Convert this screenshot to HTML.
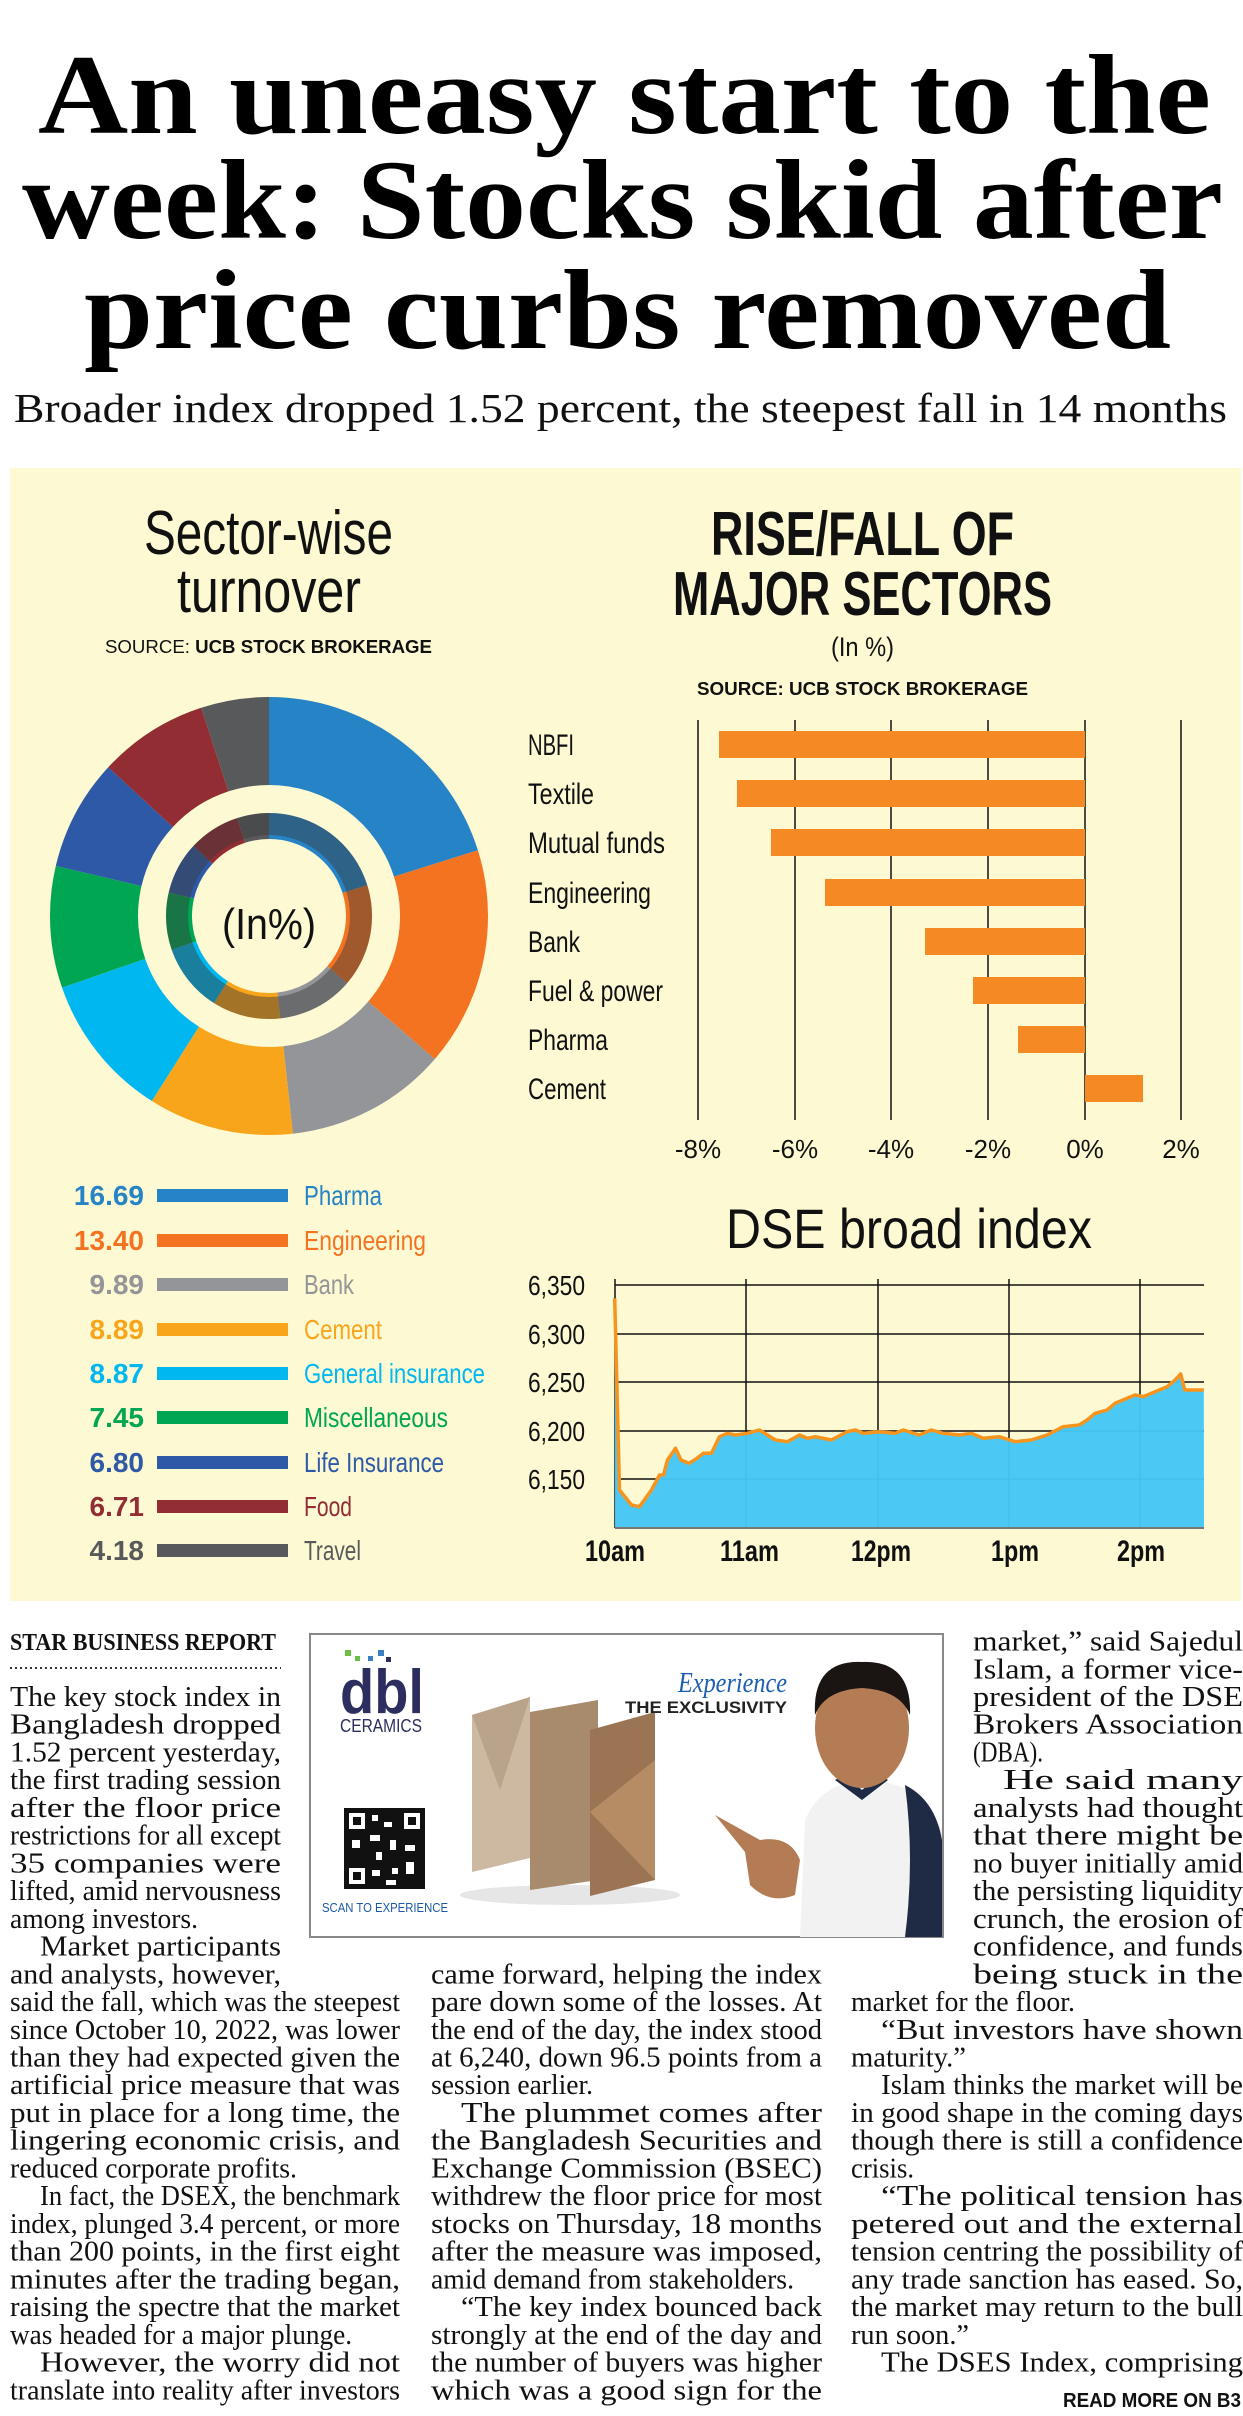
<!DOCTYPE html>
<html><head><meta charset="utf-8"><style>
html,body{margin:0;padding:0;background:#fff;}
svg{display:block;}
.b{font-family:"Liberation Serif",serif;font-size:28px;fill:#111;}
.s{font-family:"Liberation Sans",sans-serif;}
</style></head><body>
<svg width="1243" height="2416" viewBox="0 0 1243 2416" xmlns="http://www.w3.org/2000/svg">
<rect width="1243" height="2416" fill="#fff"/>
<g font-family="Liberation Serif,serif" font-weight="bold" font-size="113" fill="#000">
<text x="38" y="133" textLength="1173" lengthAdjust="spacingAndGlyphs">An uneasy start to the</text>
<text x="22" y="238" textLength="1201" lengthAdjust="spacingAndGlyphs">week: Stocks skid after</text>
<text x="84" y="348" textLength="1087" lengthAdjust="spacingAndGlyphs">price curbs removed</text>
</g>
<text x="14" y="422" font-family="Liberation Serif,serif" font-size="41" fill="#111" textLength="1213" lengthAdjust="spacingAndGlyphs">Broader index dropped 1.52 percent, the steepest fall in 14 months</text>

<rect x="10" y="468" width="1231" height="1133" fill="#fdf9d3"/>

<g class="s" fill="#111">
<text x="144" y="554" font-size="62" textLength="249" lengthAdjust="spacingAndGlyphs">Sector-wise</text>
<text x="177" y="612" font-size="62" textLength="184" lengthAdjust="spacingAndGlyphs">turnover</text>
<text x="105" y="653" font-size="18" textLength="327" lengthAdjust="spacingAndGlyphs">SOURCE: <tspan font-weight="bold">UCB STOCK BROKERAGE</tspan></text>
<text x="711" y="555" font-size="62" font-weight="bold" textLength="303" lengthAdjust="spacingAndGlyphs">RISE/FALL OF</text>
<text x="673" y="615" font-size="62" font-weight="bold" textLength="379" lengthAdjust="spacingAndGlyphs">MAJOR SECTORS</text>
<text x="831" y="656" font-size="27" textLength="63" lengthAdjust="spacingAndGlyphs">(In %)</text>
<text x="697" y="695" font-size="18" font-weight="bold" textLength="331" lengthAdjust="spacingAndGlyphs">SOURCE: UCB STOCK BROKERAGE</text>
</g>

<g transform="rotate(-90 269 916)" fill="none">
<circle cx="269" cy="916" r="175" stroke-width="88" stroke="#2684c6" stroke-dasharray="221.4 1100" stroke-dashoffset="0"/>
<circle cx="269" cy="916" r="175" stroke-width="88" stroke="#f37321" stroke-dasharray="177.8 1100" stroke-dashoffset="-221.4"/>
<circle cx="269" cy="916" r="175" stroke-width="88" stroke="#939598" stroke-dasharray="131.2 1100" stroke-dashoffset="-399.2"/>
<circle cx="269" cy="916" r="175" stroke-width="88" stroke="#f9a51b" stroke-dasharray="117.9 1100" stroke-dashoffset="-530.4"/>
<circle cx="269" cy="916" r="175" stroke-width="88" stroke="#00b7ef" stroke-dasharray="117.7 1100" stroke-dashoffset="-648.3"/>
<circle cx="269" cy="916" r="175" stroke-width="88" stroke="#00a651" stroke-dasharray="98.8 1100" stroke-dashoffset="-766.0"/>
<circle cx="269" cy="916" r="175" stroke-width="88" stroke="#2e59a7" stroke-dasharray="90.2 1100" stroke-dashoffset="-864.8"/>
<circle cx="269" cy="916" r="175" stroke-width="88" stroke="#922d34" stroke-dasharray="89.0 1100" stroke-dashoffset="-955.0"/>
<circle cx="269" cy="916" r="175" stroke-width="88" stroke="#58595b" stroke-dasharray="55.6 1100" stroke-dashoffset="-1044.0"/>
<circle cx="269" cy="916" r="90" stroke-width="26" stroke="#2684c6" stroke-dasharray="113.9 600" stroke-dashoffset="0"/>
<circle cx="269" cy="916" r="90" stroke-width="26" stroke="#f37321" stroke-dasharray="91.4 600" stroke-dashoffset="-113.9"/>
<circle cx="269" cy="916" r="90" stroke-width="26" stroke="#939598" stroke-dasharray="67.5 600" stroke-dashoffset="-205.3"/>
<circle cx="269" cy="916" r="90" stroke-width="26" stroke="#f9a51b" stroke-dasharray="60.6 600" stroke-dashoffset="-272.8"/>
<circle cx="269" cy="916" r="90" stroke-width="26" stroke="#00b7ef" stroke-dasharray="60.5 600" stroke-dashoffset="-333.4"/>
<circle cx="269" cy="916" r="90" stroke-width="26" stroke="#00a651" stroke-dasharray="50.8 600" stroke-dashoffset="-393.9"/>
<circle cx="269" cy="916" r="90" stroke-width="26" stroke="#2e59a7" stroke-dasharray="46.4 600" stroke-dashoffset="-444.7"/>
<circle cx="269" cy="916" r="90" stroke-width="26" stroke="#922d34" stroke-dasharray="45.8 600" stroke-dashoffset="-491.1"/>
<circle cx="269" cy="916" r="90" stroke-width="26" stroke="#58595b" stroke-dasharray="28.6 600" stroke-dashoffset="-536.9"/>
<circle cx="269" cy="916" r="92" stroke-width="22" stroke="#3a3a3a" stroke-opacity="0.45"/>
</g>
<text x="222" y="939" class="s" font-size="44" fill="#111" textLength="94" lengthAdjust="spacingAndGlyphs">(In%)</text>

<g stroke="#111" stroke-width="1.5">
<line x1="698" y1="720" x2="698" y2="1120"/><line x1="795" y1="720" x2="795" y2="1120"/>
<line x1="891" y1="720" x2="891" y2="1120"/><line x1="988" y1="720" x2="988" y2="1120"/>
<line x1="1085" y1="720" x2="1085" y2="1120"/><line x1="1181" y1="720" x2="1181" y2="1120"/>
</g>
<g fill="#f58a24">
<rect x="719" y="731" width="366" height="27"/>
<rect x="737" y="780" width="348" height="27"/>
<rect x="771" y="829" width="314" height="27"/>
<rect x="825" y="879" width="260" height="27"/>
<rect x="925" y="928" width="160" height="27"/>
<rect x="973" y="977" width="112" height="27"/>
<rect x="1018" y="1026" width="67" height="27"/>
<rect x="1085" y="1075" width="58" height="27"/>
</g>
<g class="s" font-size="30" fill="#111">
<text x="528" y="755" textLength="46" lengthAdjust="spacingAndGlyphs">NBFI</text>
<text x="528" y="804" textLength="66" lengthAdjust="spacingAndGlyphs">Textile</text>
<text x="528" y="853" textLength="137" lengthAdjust="spacingAndGlyphs">Mutual funds</text>
<text x="528" y="903" textLength="123" lengthAdjust="spacingAndGlyphs">Engineering</text>
<text x="528" y="952" textLength="52" lengthAdjust="spacingAndGlyphs">Bank</text>
<text x="528" y="1001" textLength="135" lengthAdjust="spacingAndGlyphs">Fuel &amp; power</text>
<text x="528" y="1050" textLength="80" lengthAdjust="spacingAndGlyphs">Pharma</text>
<text x="528" y="1099" textLength="78" lengthAdjust="spacingAndGlyphs">Cement</text>
</g>
<g class="s" font-size="26" fill="#111" text-anchor="middle">
<text x="698" y="1158">-8%</text><text x="795" y="1158">-6%</text><text x="891" y="1158">-4%</text>
<text x="988" y="1158">-2%</text><text x="1085" y="1158">0%</text><text x="1181" y="1158">2%</text>
</g>

<g class="s" font-size="28">
<g font-weight="bold" text-anchor="end">
<text x="144" y="1205" fill="#2684c6">16.69</text>
<text x="144" y="1250" fill="#f37321">13.40</text>
<text x="144" y="1294" fill="#939598">9.89</text>
<text x="144" y="1339" fill="#f9a51b">8.89</text>
<text x="144" y="1383" fill="#00b7ef">8.87</text>
<text x="144" y="1427" fill="#00a651">7.45</text>
<text x="144" y="1472" fill="#2e59a7">6.80</text>
<text x="144" y="1516" fill="#922d34">6.71</text>
<text x="144" y="1560" fill="#58595b">4.18</text>
</g>
<rect x="157" y="1189" width="131" height="13" fill="#2684c6"/>
<rect x="157" y="1234" width="131" height="13" fill="#f37321"/>
<rect x="157" y="1278" width="131" height="13" fill="#939598"/>
<rect x="157" y="1323" width="131" height="13" fill="#f9a51b"/>
<rect x="157" y="1367" width="131" height="13" fill="#00b7ef"/>
<rect x="157" y="1411" width="131" height="13" fill="#00a651"/>
<rect x="157" y="1456" width="131" height="13" fill="#2e59a7"/>
<rect x="157" y="1500" width="131" height="13" fill="#922d34"/>
<rect x="157" y="1544" width="131" height="13" fill="#58595b"/>
<text x="304" y="1205" fill="#2684c6" textLength="78" lengthAdjust="spacingAndGlyphs">Pharma</text>
<text x="304" y="1250" fill="#f37321" textLength="122" lengthAdjust="spacingAndGlyphs">Engineering</text>
<text x="304" y="1294" fill="#939598" textLength="50" lengthAdjust="spacingAndGlyphs">Bank</text>
<text x="304" y="1339" fill="#f9a51b" textLength="78" lengthAdjust="spacingAndGlyphs">Cement</text>
<text x="304" y="1383" fill="#00b7ef" textLength="181" lengthAdjust="spacingAndGlyphs">General insurance</text>
<text x="304" y="1427" fill="#00a651" textLength="144" lengthAdjust="spacingAndGlyphs">Miscellaneous</text>
<text x="304" y="1472" fill="#2e59a7" textLength="140" lengthAdjust="spacingAndGlyphs">Life Insurance</text>
<text x="304" y="1516" fill="#922d34" textLength="48" lengthAdjust="spacingAndGlyphs">Food</text>
<text x="304" y="1560" fill="#58595b" textLength="57" lengthAdjust="spacingAndGlyphs">Travel</text>
</g>

<text x="726" y="1248" class="s" font-size="56" fill="#111" textLength="366" lengthAdjust="spacingAndGlyphs">DSE broad index</text>
<g stroke="#111" stroke-width="1.5">
<line x1="615" y1="1285" x2="1204" y2="1285"/><line x1="615" y1="1334" x2="1204" y2="1334"/>
<line x1="615" y1="1382" x2="1204" y2="1382"/><line x1="615" y1="1431" x2="1204" y2="1431"/>
<line x1="615" y1="1479" x2="1204" y2="1479"/>
<line x1="746" y1="1279" x2="746" y2="1528"/><line x1="878" y1="1279" x2="878" y2="1528"/>
<line x1="1009" y1="1279" x2="1009" y2="1528"/><line x1="1140" y1="1279" x2="1140" y2="1528"/>
<line x1="615" y1="1279" x2="615" y2="1528"/>
</g>
<path fill="#45c6f4" fill-opacity="0.97" d="M614.7,1298.3 L619.5,1490 L631.5,1505 L639.5,1506.7 L651.5,1490 L659.5,1475 L663.5,1475 L667.5,1460 L675.5,1448.3 L681,1460 L689,1463.3 L697,1458.3 L703.4,1453.3 L711.4,1453.3 L719.4,1436.7 L727.4,1433.3 L735.4,1435 L747.4,1433.3 L759.4,1430 L767.4,1435 L775.4,1440 L787.4,1441.7 L799.4,1435 L807.4,1438.3 L815.3,1436.7 L831.3,1440 L847.3,1431.7 L855.3,1430 L863.3,1433.3 L879.3,1431.7 L895.3,1433.3 L903.3,1430 L919.3,1435 L931.3,1430 L943.2,1433.3 L959.2,1435 L971.2,1433.3 L983.2,1438.3 L999.2,1436.7 L1015.2,1441.7 L1031.2,1440 L1047.2,1435 L1063.1,1426.7 L1079.1,1425 L1087.1,1420 L1095.1,1413.3 L1107.1,1410 L1115.1,1403.3 L1127.1,1398.3 L1135.1,1395 L1143.1,1396.7 L1155.1,1391.7 L1167.1,1386.7 L1175.1,1380 L1180.7,1374 L1184.7,1390 L1203.8,1390 L1204,1528 L615,1528 Z"/>
<path fill="none" stroke="#f7941d" stroke-width="3.5" stroke-linejoin="round" d="M614.7,1298.3 L619.5,1490 L631.5,1505 L639.5,1506.7 L651.5,1490 L659.5,1475 L663.5,1475 L667.5,1460 L675.5,1448.3 L681,1460 L689,1463.3 L697,1458.3 L703.4,1453.3 L711.4,1453.3 L719.4,1436.7 L727.4,1433.3 L735.4,1435 L747.4,1433.3 L759.4,1430 L767.4,1435 L775.4,1440 L787.4,1441.7 L799.4,1435 L807.4,1438.3 L815.3,1436.7 L831.3,1440 L847.3,1431.7 L855.3,1430 L863.3,1433.3 L879.3,1431.7 L895.3,1433.3 L903.3,1430 L919.3,1435 L931.3,1430 L943.2,1433.3 L959.2,1435 L971.2,1433.3 L983.2,1438.3 L999.2,1436.7 L1015.2,1441.7 L1031.2,1440 L1047.2,1435 L1063.1,1426.7 L1079.1,1425 L1087.1,1420 L1095.1,1413.3 L1107.1,1410 L1115.1,1403.3 L1127.1,1398.3 L1135.1,1395 L1143.1,1396.7 L1155.1,1391.7 L1167.1,1386.7 L1175.1,1380 L1180.7,1374 L1184.7,1390 L1203.8,1390"/>
<line x1="615" y1="1528" x2="1204" y2="1528" stroke="#777" stroke-width="2"/>
<g class="s" font-size="28" fill="#111">
<text x="528" y="1295" textLength="57" lengthAdjust="spacingAndGlyphs">6,350</text>
<text x="528" y="1344" textLength="57" lengthAdjust="spacingAndGlyphs">6,300</text>
<text x="528" y="1392" textLength="57" lengthAdjust="spacingAndGlyphs">6,250</text>
<text x="528" y="1441" textLength="57" lengthAdjust="spacingAndGlyphs">6,200</text>
<text x="528" y="1489" textLength="57" lengthAdjust="spacingAndGlyphs">6,150</text>
</g>
<g class="s" font-size="30" font-weight="bold" fill="#111">
<text x="585" y="1561" textLength="60" lengthAdjust="spacingAndGlyphs">10am</text>
<text x="720" y="1561" textLength="59" lengthAdjust="spacingAndGlyphs">11am</text>
<text x="851" y="1561" textLength="60" lengthAdjust="spacingAndGlyphs">12pm</text>
<text x="991" y="1561" textLength="48" lengthAdjust="spacingAndGlyphs">1pm</text>
<text x="1117" y="1561" textLength="48" lengthAdjust="spacingAndGlyphs">2pm</text>
</g>

<text x="10" y="1650" font-family="Liberation Serif,serif" font-weight="bold" font-size="24" fill="#111" textLength="266" lengthAdjust="spacingAndGlyphs">STAR BUSINESS REPORT</text>
<line x1="10" y1="1668" x2="281" y2="1668" stroke="#333" stroke-width="2" stroke-dasharray="2 3"/>

<rect x="310" y="1634" width="633" height="303" fill="#fff" stroke="#888" stroke-width="2"/>
<rect x="345" y="1650" width="6" height="6" fill="#6cbf45"/><rect x="355" y="1656" width="5" height="5" fill="#6cbf45"/><rect x="368" y="1656" width="5" height="5" fill="#3a7fc1"/><rect x="378" y="1650" width="6" height="6" fill="#3a7fc1"/><rect x="386" y="1657" width="5" height="5" fill="#2b2e5e"/>
<text x="340" y="1713" class="s" font-weight="bold" font-size="62" fill="#2b2e5e" textLength="84" lengthAdjust="spacingAndGlyphs">dbl</text>
<text x="340" y="1732" class="s" font-size="18" fill="#2b2e5e" textLength="82" lengthAdjust="spacingAndGlyphs">CERAMICS</text>
<rect x="344" y="1808" width="81" height="81" fill="#111"/>
<g fill="#fff">
<rect x="349" y="1813" width="16" height="16"/><rect x="404" y="1813" width="16" height="16"/><rect x="349" y="1868" width="16" height="16"/>
<rect x="372" y="1815" width="6" height="6"/><rect x="384" y="1822" width="8" height="5"/><rect x="370" y="1835" width="10" height="6"/><rect x="352" y="1840" width="8" height="8"/><rect x="390" y="1840" width="6" height="10"/><rect x="405" y="1845" width="10" height="6"/><rect x="376" y="1852" width="6" height="8"/><rect x="372" y="1870" width="8" height="6"/><rect x="392" y="1868" width="6" height="6"/><rect x="406" y="1862" width="8" height="12"/><rect x="386" y="1880" width="10" height="5"/>
</g>
<g fill="#111"><rect x="353" y="1817" width="8" height="8"/><rect x="408" y="1817" width="8" height="8"/><rect x="353" y="1872" width="8" height="8"/></g>
<text x="322" y="1912" class="s" font-size="13" fill="#1a5aa8" textLength="126" lengthAdjust="spacingAndGlyphs">SCAN TO EXPERIENCE</text>
<ellipse cx="570" cy="1895" rx="110" ry="10" fill="#e6e6e6"/>
<polygon points="472,1715 530,1697 530,1858 472,1872" fill="#cdb9a2"/>
<polygon points="472,1715 530,1697 500,1790" fill="#b9a48b"/>
<polygon points="530,1712 598,1700 598,1880 530,1890" fill="#a88a6d"/>
<polygon points="590,1730 655,1712 655,1880 590,1896" fill="#9b7553"/>
<polygon points="590,1812 655,1760 655,1880" fill="#b58c64"/>
<text x="678" y="1692" font-family="Liberation Serif,serif" font-style="italic" font-size="28" fill="#1c5fae" textLength="109" lengthAdjust="spacingAndGlyphs">Experience</text>
<text x="625" y="1713" class="s" font-weight="bold" font-size="17" fill="#222" textLength="162" lengthAdjust="spacingAndGlyphs">THE EXCLUSIVITY</text>
<path d="M800,1937 L805,1820 Q820,1785 860,1780 Q905,1782 925,1800 L942,1830 L942,1937 Z" fill="#f2f2f2"/>
<path d="M905,1785 Q935,1800 942,1840 L942,1937 L905,1937 Q915,1860 905,1785 Z" fill="#1f2a44"/>
<path d="M835,1780 L862,1800 L888,1780 L880,1775 L862,1790 L845,1775 Z" fill="#1f2a44"/>
<ellipse cx="862" cy="1728" rx="47" ry="60" fill="#b47c55"/>
<path d="M815,1715 Q812,1660 862,1662 Q912,1660 910,1715 Q900,1690 862,1688 Q825,1690 815,1715 Z" fill="#1a1412"/>
<path d="M715,1815 L760,1840 Q790,1835 800,1860 L795,1895 Q770,1905 750,1885 L745,1852 Z" fill="#b47c55"/>

<g class="b">
<text x="10" y="1706" textLength="271" lengthAdjust="spacingAndGlyphs">The key stock index in</text>
<text x="10" y="1733.7" textLength="271" lengthAdjust="spacingAndGlyphs">Bangladesh   dropped</text>
<text x="10" y="1761.5" textLength="271" lengthAdjust="spacingAndGlyphs">1.52 percent yesterday,</text>
<text x="10" y="1789.2" textLength="271" lengthAdjust="spacingAndGlyphs">the first trading session</text>
<text x="10" y="1816.9" textLength="271" lengthAdjust="spacingAndGlyphs">after the floor price</text>
<text x="10" y="1844.7" textLength="271" lengthAdjust="spacingAndGlyphs">restrictions for all except</text>
<text x="10" y="1872.4" textLength="271" lengthAdjust="spacingAndGlyphs">35  companies  were</text>
<text x="10" y="1900.1" textLength="271" lengthAdjust="spacingAndGlyphs">lifted, amid nervousness</text>
<text x="10" y="1927.8" textLength="188" lengthAdjust="spacingAndGlyphs">among investors.</text>
<text x="40" y="1955.6" textLength="241" lengthAdjust="spacingAndGlyphs">Market  participants</text>
<text x="10" y="1983.3" textLength="271" lengthAdjust="spacingAndGlyphs">and analysts, however,</text>
<text x="10" y="2011" textLength="390" lengthAdjust="spacingAndGlyphs">said the fall, which was the steepest</text>
<text x="10" y="2038.8" textLength="390" lengthAdjust="spacingAndGlyphs">since October 10, 2022, was lower</text>
<text x="10" y="2066.5" textLength="390" lengthAdjust="spacingAndGlyphs">than they had expected given the</text>
<text x="10" y="2094.2" textLength="390" lengthAdjust="spacingAndGlyphs">artificial price measure that was</text>
<text x="10" y="2122" textLength="390" lengthAdjust="spacingAndGlyphs">put in place for a long time, the</text>
<text x="10" y="2149.7" textLength="390" lengthAdjust="spacingAndGlyphs">lingering  economic  crisis,  and</text>
<text x="10" y="2177.4" textLength="287" lengthAdjust="spacingAndGlyphs">reduced corporate profits.</text>
<text x="40" y="2205.1" textLength="360" lengthAdjust="spacingAndGlyphs">In fact, the DSEX, the benchmark</text>
<text x="10" y="2232.9" textLength="390" lengthAdjust="spacingAndGlyphs">index, plunged 3.4 percent, or more</text>
<text x="10" y="2260.6" textLength="390" lengthAdjust="spacingAndGlyphs">than 200 points, in the first eight</text>
<text x="10" y="2288.3" textLength="390" lengthAdjust="spacingAndGlyphs">minutes after the trading began,</text>
<text x="10" y="2316.1" textLength="390" lengthAdjust="spacingAndGlyphs">raising the spectre that the market</text>
<text x="10" y="2343.8" textLength="342" lengthAdjust="spacingAndGlyphs">was headed for a major plunge.</text>
<text x="40" y="2371.5" textLength="360" lengthAdjust="spacingAndGlyphs">However,  the  worry  did  not</text>
<text x="10" y="2399.3" textLength="390" lengthAdjust="spacingAndGlyphs">translate into reality after investors</text>
<text x="431" y="1983.3" textLength="391" lengthAdjust="spacingAndGlyphs">came forward, helping the index</text>
<text x="431" y="2011" textLength="391" lengthAdjust="spacingAndGlyphs">pare down some of the losses. At</text>
<text x="431" y="2038.8" textLength="391" lengthAdjust="spacingAndGlyphs">the end of the day, the index stood</text>
<text x="431" y="2066.5" textLength="391" lengthAdjust="spacingAndGlyphs">at 6,240, down 96.5 points from a</text>
<text x="431" y="2094.2" textLength="162" lengthAdjust="spacingAndGlyphs">session earlier.</text>
<text x="461" y="2122" textLength="361" lengthAdjust="spacingAndGlyphs">The   plummet   comes   after</text>
<text x="431" y="2149.7" textLength="391" lengthAdjust="spacingAndGlyphs">the  Bangladesh  Securities  and</text>
<text x="431" y="2177.4" textLength="391" lengthAdjust="spacingAndGlyphs">Exchange   Commission   (BSEC)</text>
<text x="431" y="2205.1" textLength="391" lengthAdjust="spacingAndGlyphs">withdrew the floor price for most</text>
<text x="431" y="2232.9" textLength="391" lengthAdjust="spacingAndGlyphs">stocks  on  Thursday,  18  months</text>
<text x="431" y="2260.6" textLength="391" lengthAdjust="spacingAndGlyphs">after  the  measure  was  imposed,</text>
<text x="431" y="2288.3" textLength="363" lengthAdjust="spacingAndGlyphs">amid demand from stakeholders.</text>
<text x="461" y="2316.1" textLength="361" lengthAdjust="spacingAndGlyphs">“The  key  index  bounced  back</text>
<text x="431" y="2343.8" textLength="391" lengthAdjust="spacingAndGlyphs">strongly at the end of the day and</text>
<text x="431" y="2371.5" textLength="391" lengthAdjust="spacingAndGlyphs">the number of buyers was higher</text>
<text x="431" y="2399.3" textLength="391" lengthAdjust="spacingAndGlyphs">which  was  a  good  sign  for  the</text>
<text x="973" y="1650.5" textLength="270" lengthAdjust="spacingAndGlyphs">market,”   said   Sajedul</text>
<text x="973" y="1678.3" textLength="270" lengthAdjust="spacingAndGlyphs">Islam,  a  former  vice-</text>
<text x="973" y="1706" textLength="270" lengthAdjust="spacingAndGlyphs">president  of  the  DSE</text>
<text x="973" y="1733.7" textLength="270" lengthAdjust="spacingAndGlyphs">Brokers     Association</text>
<text x="973" y="1761.5" textLength="70" lengthAdjust="spacingAndGlyphs">(DBA).</text>
<text x="1003" y="1789.2" textLength="240" lengthAdjust="spacingAndGlyphs">He      said      many</text>
<text x="973" y="1816.9" textLength="270" lengthAdjust="spacingAndGlyphs">analysts  had  thought</text>
<text x="973" y="1844.7" textLength="270" lengthAdjust="spacingAndGlyphs">that  there  might  be</text>
<text x="973" y="1872.4" textLength="270" lengthAdjust="spacingAndGlyphs">no buyer initially amid</text>
<text x="973" y="1900.1" textLength="270" lengthAdjust="spacingAndGlyphs">the persisting liquidity</text>
<text x="973" y="1927.8" textLength="270" lengthAdjust="spacingAndGlyphs">crunch, the erosion of</text>
<text x="973" y="1955.6" textLength="270" lengthAdjust="spacingAndGlyphs">confidence,  and  funds</text>
<text x="973" y="1983.3" textLength="270" lengthAdjust="spacingAndGlyphs">being    stuck    in    the</text>
<text x="851" y="2011" textLength="224" lengthAdjust="spacingAndGlyphs">market for the floor.</text>
<text x="881" y="2038.8" textLength="362" lengthAdjust="spacingAndGlyphs">“But   investors   have   shown</text>
<text x="851" y="2066.5" textLength="115" lengthAdjust="spacingAndGlyphs">maturity.”</text>
<text x="881" y="2094.2" textLength="362" lengthAdjust="spacingAndGlyphs">Islam thinks the market will be</text>
<text x="851" y="2122" textLength="392" lengthAdjust="spacingAndGlyphs">in good shape in the coming days</text>
<text x="851" y="2149.7" textLength="392" lengthAdjust="spacingAndGlyphs">though there is still a confidence</text>
<text x="851" y="2177.4" textLength="63" lengthAdjust="spacingAndGlyphs">crisis.</text>
<text x="881" y="2205.1" textLength="362" lengthAdjust="spacingAndGlyphs">“The   political   tension   has</text>
<text x="851" y="2232.9" textLength="392" lengthAdjust="spacingAndGlyphs">petered  out  and  the  external</text>
<text x="851" y="2260.6" textLength="392" lengthAdjust="spacingAndGlyphs">tension centring the possibility of</text>
<text x="851" y="2288.3" textLength="392" lengthAdjust="spacingAndGlyphs">any trade sanction has eased. So,</text>
<text x="851" y="2316.1" textLength="392" lengthAdjust="spacingAndGlyphs">the market may return to the bull</text>
<text x="851" y="2343.8" textLength="118" lengthAdjust="spacingAndGlyphs">run soon.”</text>
<text x="881" y="2371.5" textLength="362" lengthAdjust="spacingAndGlyphs">The  DSES  Index,  comprising</text>
</g>
<text x="1063" y="2407" class="s" font-weight="bold" font-size="20" fill="#111" textLength="178" lengthAdjust="spacingAndGlyphs">READ MORE ON B3</text>
</svg>
</body></html>
